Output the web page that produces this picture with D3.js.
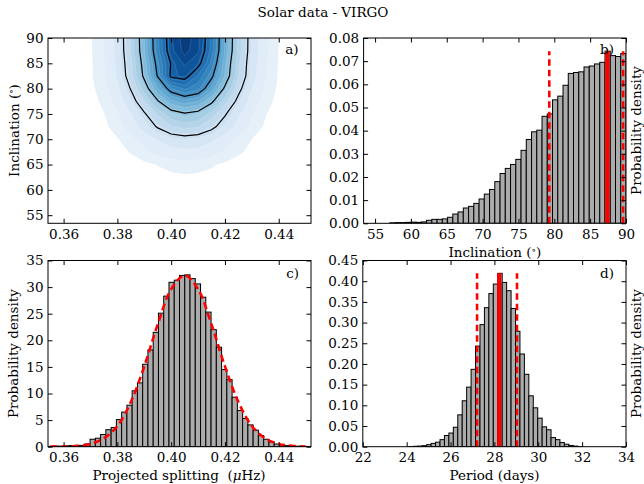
<!DOCTYPE html>
<html><head><meta charset="utf-8">
<script src="https://cdn.jsdelivr.net/npm/d3@7"></script>
<style>
body{margin:0;background:#fff;}
svg text{font-family:"DejaVu Serif",serif;}
</style></head><body>
<svg id="chart" width="644" height="484"></svg>
<script>
// ---------------- DATA ----------------
const title = "Solar data - VIRGO";

// Panel a: joint density (relative %)
const jointX = [0.355,0.360,0.365,0.370,0.375,0.380,0.385,0.390,0.395,0.400,0.405,0.410,0.415,0.420,0.425,0.430,0.435,0.440,0.445,0.450];
const jointY = [55,57.5,60,62.5,65,67.5,70,72.5,75,77.5,80,82.5,85,87.5,90];
const jointDensity = [
 [0,0,0,0,0,0,0,0,0,0,0,0,0,0,0,0,0,0,0,0],
 [0,0,0,0,0,0,0.1,0.1,0.2,0.3,0.3,0.3,0.2,0.2,0.1,0,0,0,0,0],
 [0,0,0,0,0,0.1,0.1,0.2,0.4,0.5,0.5,0.5,0.4,0.3,0.1,0.1,0,0,0,0],
 [0,0,0,0,0.1,0.2,0.4,0.8,1.2,1.5,1.7,1.6,1.3,0.9,0.5,0.2,0.1,0,0,0],
 [0,0,0,0.1,0.2,0.4,0.8,1.4,2.1,2.7,3.0,2.8,2.3,1.5,0.9,0.4,0.2,0.1,0,0],
 [0,0,0,0.1,0.4,1.0,2.2,3.9,6.0,7.7,8.5,8.0,6.4,4.3,2.5,1.2,0.5,0.2,0.1,0],
 [0,0,0.1,0.2,0.7,1.8,3.8,6.7,10.2,13.3,14.6,13.7,11.0,7.4,4.2,2.0,0.9,0.3,0.1,0],
 [0,0,0.1,0.5,1.4,3.2,7.0,12.4,18.9,24.6,27.0,25.4,20.3,13.8,7.8,3.8,1.6,0.5,0.2,0.1],
 [0,0,0.2,0.6,1.9,4.4,9.6,17.0,25.9,33.7,37.0,34.8,27.8,18.9,10.7,5.2,2.2,0.7,0.2,0.1],
 [0,0.1,0.3,0.9,2.7,6.4,13.8,24.4,37.1,48.2,53.0,49.8,39.8,27.0,15.4,7.4,3.2,1.1,0.3,0.1],
 [0,0.1,0.4,1.2,3.6,8.5,18.5,32.7,49.7,64.6,71.0,66.7,53.3,36.2,20.6,9.9,4.3,1.4,0.4,0.1],
 [0,0.1,0.4,1.5,4.4,10.4,22.6,40.0,60.9,84.0,86.0,74.0,62.0,44.4,25.2,12.2,5.2,1.7,0.5,0.2],
 [0,0.1,0.5,1.5,4.6,10.9,23.7,41.9,63.7,82.8,91.0,85.5,68.3,46.4,26.4,12.7,5.5,1.8,0.5,0.2],
 [0,0.1,0.5,1.6,4.9,11.6,25.2,44.6,67.9,88.3,97.0,91.2,72.8,49.5,28.1,13.6,5.8,1.9,0.6,0.2],
 [0,0.1,0.5,1.7,4.9,11.8,25.5,45.1,68.6,89.2,98.0,92.1,73.5,50.0,28.4,13.7,5.9,2.0,0.6,0.2]
];
const fillLevels = [2,5,10,15,20,25,30,35,40,45,50,55,60,65,70,75,80,85,90,95];
const lineLevels = [18,38,60,82];

// Panel b: inclination histogram
const incStart = 53.4, incWidth = 0.732;
const incHist = [0,0,0,0,0,0.0002,0.0003,0.0003,0.0004,0.0005,0.0004,0.0006,0.0013,0.0017,0.0017,0.0019,0.0026,0.0040,0.0049,0.0066,
 0.0073,0.0086,0.0105,0.0126,0.0146,0.0180,0.0215,0.0237,0.0254,0.0276,0.0315,0.0362,0.0395,0.0402,0.0462,0.0472,0.0533,0.0549,0.0596,0.0647,
 0.0651,0.0654,0.0675,0.0679,0.0688,0.0695,0.0743,0.0724,0.0720,0.0733];
const incLower = 79.3, incBest = 87.4, incUpper = 89.6, incPeak = 0.0743;

// Panel c: projected splitting histogram + fitted curve
const splStart = 0.3542, splWidth = 0.001956;
const splHist = [0.05,0.1,0.1,0.15,0.2,0.15,0.25,0.5,1.4,1.6,2.3,3.2,3.6,5.1,6.5,7.8,10.5,12.0,15.5,18.2,
 21.5,25.1,28.3,30.9,31.3,32.2,32.3,31.6,30.6,28.1,25.3,22.0,18.7,14.5,12.6,9.3,6.8,5.3,4.1,3.1,
 2.1,1.4,0.9,0.5,0.3,0.2,0.1,0.1,0.05,0.05];
const fitX = [0.355,0.360,0.365,0.370,0.375,0.380,0.385,0.390,0.395,0.400,0.405,0.410,0.415,0.420,0.425,0.430,0.435,0.440,0.445,0.450];
const fitY = [0.01,0.04,0.15,0.53,1.57,3.9,8.4,15.1,23.0,29.6,32.2,29.6,23.0,15.1,8.4,3.9,1.57,0.53,0.15,0.04];

// Panel d: period histogram
const perStart = 23.09, perWidth = 0.2025;
const perHist = [0,0,0,0,0,0.0005,0.001,0.0015,0.0025,0.005,0.008,0.011,0.017,0.027,0.033,0.047,0.077,0.111,0.144,0.187,
 0.243,0.295,0.336,0.370,0.393,0.419,0.397,0.377,0.334,0.279,0.224,0.175,0.123,0.094,0.069,0.048,0.041,0.022,0.017,0.010,
 0.006,0.003,0.0015,0.0005,0,0,0,0,0,0];
const perLower = 27.21, perBest = 28.22, perUpper = 29.03, perPeak = 0.419;

// Ticks
const ticksSplit = [0.36,0.38,0.40,0.42,0.44];
const ticksIncA = [55,60,65,70,75,80,85,90];
const ticksIncB = [55,60,65,70,75,80,85,90];
const ticksDensB = [0,0.01,0.02,0.03,0.04,0.05,0.06,0.07,0.08];
const ticksDensC = [0,5,10,15,20,25,30,35];
const ticksPer = [22,24,26,28,30,32,34];
const ticksDensD = [0,0.05,0.10,0.15,0.20,0.25,0.30,0.35,0.40,0.45];

// ---------------- LAYOUT ----------------
const FONT = "'DejaVu Serif', serif";
const FS = 13.5;
const svg = d3.select("#chart");
const boxA = {x0:48, x1:311, y0:38, y1:223.3};
const boxB = {x0:363.6, x1:626, y0:38, y1:223.3};
const boxC = {x0:48, x1:311, y0:260.5, y1:446.7};
const boxD = {x0:362.8, x1:626, y0:260.5, y1:446.7};

function clip(id, b){
  svg.append("clipPath").attr("id", id).append("rect")
    .attr("x", b.x0).attr("y", b.y0).attr("width", b.x1-b.x0).attr("height", b.y1-b.y0);
}
function axes(x, y, xt, yt, xf, yf, b){
  const g = svg.append("g");
  g.append("g").attr("transform", `translate(0,${b.y1})`)
    .call(d3.axisBottom(x).tickValues(xt).tickSize(-4.5).tickSizeOuter(0).tickPadding(6).tickFormat(xf));
  g.append("g").attr("transform", `translate(0,${b.y0})`)
    .call(d3.axisTop(x).tickValues(xt).tickSize(-4.5).tickSizeOuter(0).tickFormat(""));
  g.append("g").attr("transform", `translate(${b.x0},0)`)
    .call(d3.axisLeft(y).tickValues(yt).tickSize(-4.5).tickSizeOuter(0).tickPadding(4.5).tickFormat(yf));
  g.append("g").attr("transform", `translate(${b.x1},0)`)
    .call(d3.axisRight(y).tickValues(yt).tickSize(-4.5).tickSizeOuter(0).tickFormat(""));
  g.selectAll(".domain").remove();
  g.selectAll(".tick line").attr("stroke", "#000").attr("stroke-width", 1);
  g.selectAll(".tick text").attr("font-family", FONT).attr("font-size", FS).attr("fill", "#000");
  g.append("rect").attr("x", b.x0).attr("y", b.y0).attr("width", b.x1-b.x0).attr("height", b.y1-b.y0)
    .attr("fill", "none").attr("stroke", "#000").attr("stroke-width", 1);
}
function label(txt, x, y, anchor, rot){
  const t = svg.append("text").attr("font-family", FONT).attr("font-size", FS).attr("fill", "#000")
    .attr("text-anchor", anchor || "middle")
    .attr("transform", `translate(${x},${y})` + (rot ? ` rotate(${rot})` : ""));
  return t.text(txt);
}
function degLabel(x, y, rot){
  const t = label("", x, y, "middle", rot);
  t.append("tspan").text("Inclination (");
  t.append("tspan").attr("font-size", 9).attr("dy", -4.5).text("\u2218");
  t.append("tspan").attr("dy", 4.5).text(")");
  return t;
}
function hist(x, y, start, width, vals, clipId){
  svg.append("g").attr("clip-path", `url(#${clipId})`).selectAll("rect").data(vals).join("rect")
    .attr("x", (d,i) => x(start + i*width))
    .attr("width", (d,i) => x(start + (i+1)*width) - x(start + i*width))
    .attr("y", d => y(d)).attr("height", d => y(0) - y(d))
    .attr("fill", "#ababab").attr("stroke", "#000").attr("stroke-width", 1);
}
function vline(x, y, v, top, dashed, clipId){
  svg.append("line").attr("clip-path", `url(#${clipId})`)
    .attr("x1", x(v)).attr("x2", x(v)).attr("y1", y(0)).attr("y2", y(top))
    .attr("stroke", "#ff0000").attr("stroke-width", dashed ? 2.6 : 4.2)
    .attr("stroke-dasharray", dashed ? "6.5,4" : null);
}
const f2 = d3.format(".2f");

// Title
label(title, 323, 17);

// ---------- Panel a ----------
clip("clipA", boxA);
const xA = d3.scaleLinear().domain([0.3542, 0.452]).range([boxA.x0, boxA.x1]);
const yA = d3.scaleLinear().domain([53.4, 90]).range([boxA.y1, boxA.y0]);
const nx = jointX.length, ny = jointY.length;
const flat = [].concat(...jointDensity);
const dxJ = jointX[1]-jointX[0], dyJ = jointY[1]-jointY[0];
const proj = d3.geoTransform({point(px, py){
  this.stream.point(xA(jointX[0] + (px-0.5)*dxJ), yA(jointY[0] + (py-0.5)*dyJ));
}});
const path = d3.geoPath(proj);
const gA = svg.append("g").attr("clip-path", "url(#clipA)");
const fills = d3.contours().size([nx, ny]).thresholds(fillLevels)(flat);
gA.selectAll("path.f").data(fills).join("path").attr("class","f")
  .attr("d", path)
  .attr("fill", d => d3.interpolateBlues(0.07 + 0.93*d.value/100))
  .attr("stroke", d => d.value >= 20 ? "rgba(255,255,255,0.22)" : "none")
  .attr("stroke-width", 0.6);
const lines = d3.contours().size([nx, ny]).thresholds(lineLevels)(flat);
gA.selectAll("path.l").data(lines).join("path").attr("class","l")
  .attr("d", path).attr("fill", "none").attr("stroke", "#000").attr("stroke-width", 1.2);
axes(xA, yA, ticksSplit, ticksIncA, f2, d3.format("d"), boxA);
label("a)", 298.5, 54, "end");
degLabel(18.5, 130.5, -90);

// ---------- Panel b ----------
clip("clipB", boxB);
const xB = d3.scaleLinear().domain([53.4, 90]).range([boxB.x0, boxB.x1]);
const yB = d3.scaleLinear().domain([0, 0.08]).range([boxB.y1, boxB.y0]);
hist(xB, yB, incStart, incWidth, incHist, "clipB");
vline(xB, yB, incLower, incPeak, true, "clipB");
vline(xB, yB, incBest, incPeak, false, "clipB");
vline(xB, yB, incUpper, incPeak, true, "clipB");
axes(xB, yB, ticksIncB, ticksDensB, d3.format("d"), f2, boxB);
label("b)", 614, 54, "end");
degLabel(494.8, 257);
label("Probability density", 641, 130.5, "middle", -90);

// ---------- Panel c ----------
clip("clipC", boxC);
const xC = d3.scaleLinear().domain([0.3542, 0.452]).range([boxC.x0, boxC.x1]);
const yC = d3.scaleLinear().domain([0, 35]).range([boxC.y1, boxC.y0]);
hist(xC, yC, splStart, splWidth, splHist, "clipC");
const fitLine = d3.line().x((d,i) => xC(fitX[i])).y(d => yC(d)).curve(d3.curveCatmullRom.alpha(0.5));
svg.append("path").attr("clip-path", "url(#clipC)").attr("d", fitLine(fitY))
  .attr("fill", "none").attr("stroke", "#ff0000").attr("stroke-width", 2.6).attr("stroke-dasharray", "7,4");
axes(xC, yC, ticksSplit, ticksDensC, f2, d3.format("d"), boxC);
label("c)", 299, 278, "end");
label("Probability density", 17.5, 353.6, "middle", -90);
const cl = label("", 179, 479.5, "middle");
cl.append("tspan").text("Projected splitting\u00a0\u00a0(");
cl.append("tspan").attr("font-style", "italic").text("\u03bc");
cl.append("tspan").text("Hz)");

// ---------- Panel d ----------
clip("clipD", boxD);
const xD = d3.scaleLinear().domain([22, 34]).range([boxD.x0, boxD.x1]);
const yD = d3.scaleLinear().domain([0, 0.45]).range([boxD.y1, boxD.y0]);
hist(xD, yD, perStart, perWidth, perHist, "clipD");
vline(xD, yD, perLower, perPeak, true, "clipD");
vline(xD, yD, perBest, perPeak, false, "clipD");
vline(xD, yD, perUpper, perPeak, true, "clipD");
axes(xD, yD, ticksPer, ticksDensD, d3.format("d"), f2, boxD);
label("d)", 614, 278, "end");
label("Period (days)", 494.5, 479.5, "middle");
label("Probability density", 641, 353.6, "middle", -90);
</script>
</body></html>
